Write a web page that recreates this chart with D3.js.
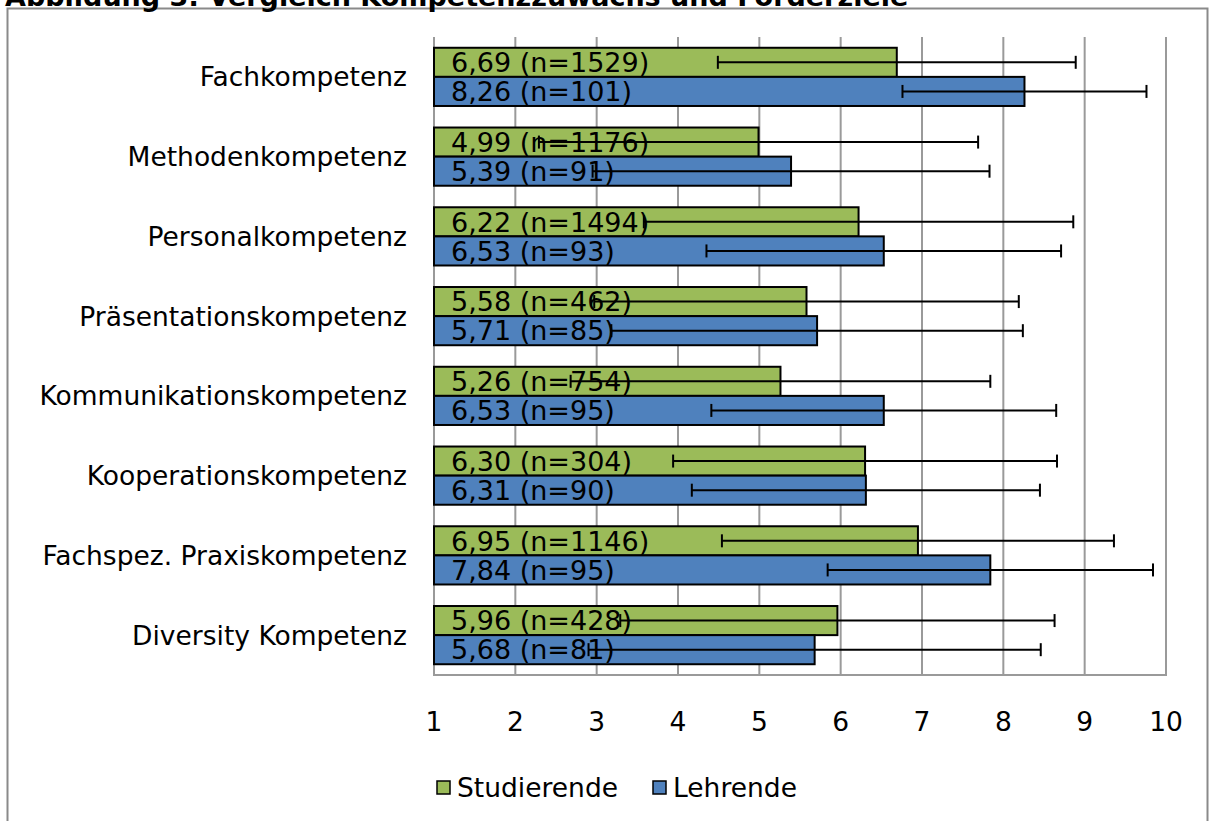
<!DOCTYPE html>
<html>
<head>
<meta charset="utf-8">
<script src="https://cdn.jsdelivr.net/npm/d3@7"></script>
<style>
  html, body { margin: 0; padding: 0; background: #fff; }
  svg { display: block; }
  text { font-family: "DejaVu Sans", Verdana, sans-serif; }
</style>
</head>
<body>
<svg id="chart" width="1210" height="821"></svg>
<script>
const title = "Abbildung 3: Vergleich Kompetenzzuwachs und Förderziele";
const categories = ["Fachkompetenz", "Methodenkompetenz", "Personalkompetenz", "Präsentationskompetenz",
  "Kommunikationskompetenz", "Kooperationskompetenz", "Fachspez. Praxiskompetenz", "Diversity Kompetenz"];
const seriesNames = ["Studierende", "Lehrende"];
const studMean = [6.69, 4.99, 6.22, 5.58, 5.26, 6.30, 6.95, 5.96];
const studN    = [1529, 1176, 1494, 462, 754, 304, 1146, 428];
const studErr  = [2.20, 2.70, 2.64, 2.61, 2.58, 2.36, 2.41, 2.67];
const lehrMean = [8.26, 5.39, 6.53, 5.71, 6.53, 6.31, 7.84, 5.68];
const lehrN    = [101, 91, 93, 85, 95, 90, 95, 81];
const lehrErr  = [1.50, 2.44, 2.18, 2.53, 2.12, 2.14, 2.00, 2.78];
const xTicks = [1, 2, 3, 4, 5, 6, 7, 8, 9, 10];
const colors = ["#9BBB59", "#4F81BD"];

const svg = d3.select("#chart");

// frame
svg.append("rect").attr("x", 7.5).attr("y", 8.5).attr("width", 1200).attr("height", 830)
  .attr("fill", "none").attr("stroke", "#8a8a8a").attr("stroke-width", 2);

// title (cut at top)
svg.append("text").attr("x", 5).attr("y", 6).attr("font-size", 27).attr("font-weight", "bold")
  .attr("fill", "#000").text(title);

const x = d3.scaleLinear().domain([1, 10]).range([434, 1166]);
const y = d3.scaleBand().domain(categories).range([37, 675]).paddingInner(0.27).paddingOuter(0.135);
const sub = d3.scaleBand().domain(seriesNames).range([0, y.bandwidth()]);

// gridlines
svg.append("g").selectAll("line").data(xTicks).join("line")
  .attr("x1", d => x(d)).attr("x2", d => x(d)).attr("y1", 37).attr("y2", 675)
  .attr("stroke", "#9a9a9a").attr("stroke-width", 2);

// bottom axis line
svg.append("line").attr("x1", x(1) - 1).attr("x2", x(10) + 1).attr("y1", 675).attr("y2", 675)
  .attr("stroke", "#9a9a9a").attr("stroke-width", 2);

// tick labels
svg.append("g").selectAll("text").data(xTicks).join("text")
  .attr("x", d => x(d)).attr("y", 731).attr("text-anchor", "middle")
  .attr("font-size", 26.5).attr("fill", "#000").text(d => d);

// category labels
svg.append("g").selectAll("text").data(categories).join("text")
  .attr("x", 407).attr("y", d => y(d) + y.bandwidth() / 2).attr("dy", "0.36em")
  .attr("text-anchor", "end").attr("font-size", 26.5).attr("fill", "#000").text(d => d);

const rows = [];
categories.forEach((c, i) => {
  rows.push({cat: c, s: 0, m: studMean[i], n: studN[i], e: studErr[i]});
  rows.push({cat: c, s: 1, m: lehrMean[i], n: lehrN[i], e: lehrErr[i]});
});

const fmt = v => v.toFixed(2).replace(".", ",");

// bars
svg.append("g").selectAll("rect").data(rows).join("rect")
  .attr("x", x(1)).attr("y", d => y(d.cat) + sub(seriesNames[d.s]))
  .attr("width", d => x(d.m) - x(1)).attr("height", sub.bandwidth())
  .attr("fill", d => colors[d.s]).attr("stroke", "#000").attr("stroke-width", 2);

// labels
svg.append("g").selectAll("text").data(rows).join("text")
  .attr("x", 451).attr("y", d => y(d.cat) + sub(seriesNames[d.s]) + sub.bandwidth() / 2).attr("dy", "0.36em")
  .attr("font-size", 27).attr("fill", "#000")
  .text(d => `${fmt(d.m)} (n=${d.n})`);

// error bars
const eb = svg.append("g").attr("stroke", "#000").attr("stroke-width", 2);
rows.forEach(d => {
  const cy = y(d.cat) + sub(seriesNames[d.s]) + sub.bandwidth() / 2;
  const x0 = x(d.m - d.e), x1 = x(d.m + d.e);
  eb.append("line").attr("x1", x0).attr("x2", x1).attr("y1", cy).attr("y2", cy);
  eb.append("line").attr("x1", x0).attr("x2", x0).attr("y1", cy - 6.5).attr("y2", cy + 6.5);
  eb.append("line").attr("x1", x1).attr("x2", x1).attr("y1", cy - 6.5).attr("y2", cy + 6.5);
});

// legend
const legendItems = [{name: seriesNames[0], x: 437}, {name: seriesNames[1], x: 653}];
const lg = svg.append("g");
legendItems.forEach((it, i) => {
  lg.append("rect").attr("x", it.x).attr("y", 781).attr("width", 13).attr("height", 13)
    .attr("fill", colors[i]).attr("stroke", "#000").attr("stroke-width", 1.5);
  lg.append("text").attr("x", it.x + 20).attr("y", 797).attr("font-size", 26.5).attr("fill", "#000").text(it.name);
});
</script>
</body>
</html>
